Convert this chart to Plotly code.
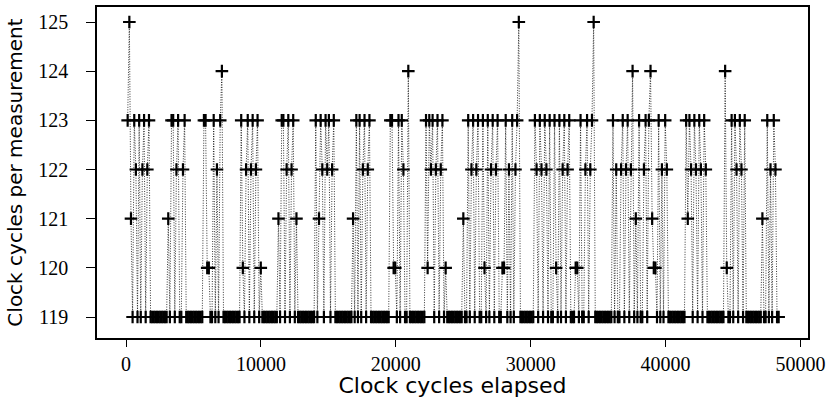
import numpy as np
import plotly.graph_objects as go

cycles_per_measurement = [
    123, 125, 121, 119, 123, 122, 119, 123, 119, 122, 123, 119, 122, 123,
    119, 119, 119, 119, 119, 119, 119, 119, 119, 119, 119,
    121, 119, 123, 123, 119, 122, 123, 119, 119, 122, 123, 119,
    119, 119, 119, 119, 119, 119, 119, 119, 119, 119,
    123, 123, 120, 120, 119, 119, 123, 119, 122, 119, 123, 124, 119,
    119, 119, 119, 119, 119, 119, 119, 119, 119, 119,
    123, 120, 119, 122, 123, 119, 122, 123, 119, 122, 123, 119, 120, 119,
    119, 119, 119, 119, 119, 119, 119, 119, 119,
    121, 119, 123, 123, 119, 122, 123, 119, 122, 123, 119, 121, 119,
    119, 119, 119, 119, 119, 119, 119, 119, 119, 119,
    123, 119, 121, 123, 122, 119, 123, 122, 123, 119, 122, 123, 119,
    119, 119, 119, 119, 119, 119, 119, 119, 119, 119,
    121, 119, 123, 119, 123, 119, 122, 123, 119, 122, 123, 119,
    119, 119, 119, 119, 119, 119, 119, 119, 119, 119, 119,
    123, 123, 120, 120, 119, 123, 119, 123, 122, 119, 119, 124, 119,
    119, 119, 119, 119, 119, 119, 119, 119, 119,
    123, 120, 123, 122, 123, 119, 122, 123, 119, 122, 123, 119, 120, 119,
    119, 119, 119, 119, 119, 119, 119, 119, 119,
    121, 119, 119, 123, 119, 122, 123, 119, 122, 123,
    119, 119, 123, 120, 119, 123, 119, 122, 123, 119,
    122, 123, 119, 119, 120, 120, 123, 119, 122, 119,
    123, 119, 122, 123, 125, 119,
    119, 119, 119, 119, 119, 119, 119, 119,
    123, 122, 119, 123, 122, 119, 123, 122, 119, 123,
    119, 119, 123, 120, 119, 123, 119, 122, 123, 119,
    122, 123, 119, 119, 119, 120, 120, 119, 123, 119,
    119, 122, 123, 119, 122, 123, 125, 119,
    119, 119, 119, 119, 119, 119, 119, 119, 119, 119,
    123, 119, 122, 119, 119, 122, 123, 119, 122, 123,
    119, 122, 124, 119, 121, 119, 123, 119, 119, 122,
    123, 119, 123, 124, 121, 120, 120, 119, 123, 119,
    122, 119, 123, 122, 119,
    119, 119, 119, 119, 119, 119, 119, 119, 119, 119,
    123, 121, 123, 122, 119, 123, 122, 119, 123, 122, 119, 123, 122, 119,
    119, 119, 119, 119, 119, 119, 119, 119, 119, 119,
    124, 120, 119, 119, 123, 119, 123, 122, 119, 123, 122, 119, 123, 119,
    119, 119, 119, 119, 119, 119, 119, 119, 119,
    121, 119, 119, 123, 119, 122, 119, 123, 122, 119, 119,
]

x_ticks = [0, 10000, 20000, 30000, 40000, 50000]
y_ticks = [119, 120, 121, 122, 123, 124, 125]

y = np.array(cycles_per_measurement)
x = np.cumsum(y)  # clock cycles elapsed at each measurement

fig = go.Figure(
    go.Scatter(
        x=x, y=y, mode="lines+markers",
        line=dict(color="black", width=0.8, dash="1px,1.5px"),
        marker=dict(symbol="cross-thin", size=9, color="black",
                    line=dict(width=2.2, color="black")),
        showlegend=False,
    )
)

tick_font = dict(family="Liberation Serif", size=20, color="black")

fig.update_layout(
    width=828, height=398,
    margin=dict(l=97, r=20, t=7, b=60),
    plot_bgcolor="white", paper_bgcolor="white",
    xaxis=dict(
        range=[-2150, 50556], automargin=False,
        tickvals=x_ticks, ticktext=[str(v) for v in x_ticks],
        ticks="outside", ticklen=7, tickwidth=1.3, tickcolor="black",
        showline=True, linewidth=1.5, linecolor="black", mirror=True,
        showgrid=False, zeroline=False, tickfont=tick_font,
        title=dict(text="Clock cycles elapsed",
                   font=dict(family="DejaVu Sans", size=22, color="black"),
                   standoff=3),
    ),
    yaxis=dict(
        range=[118.573, 125.305], automargin=False,
        tickvals=y_ticks, ticktext=[str(v) for v in y_ticks],
        ticks="outside", ticklen=9, tickwidth=1.3, tickcolor="black",
        showline=True, linewidth=1.5, linecolor="black", mirror=True,
        showgrid=False, zeroline=False, tickfont=tick_font,
        ticklabelstandoff=14,
        title=dict(text="Clock cycles per measurement",
                   font=dict(family="DejaVu Sans", size=20, color="black"),
                   standoff=10),
    ),
)

fig.write_html(
    "out.html",
    config={"displayModeBar": False},
    post_script="document.body.style.margin='0px';document.body.style.overflow='hidden';",
)
